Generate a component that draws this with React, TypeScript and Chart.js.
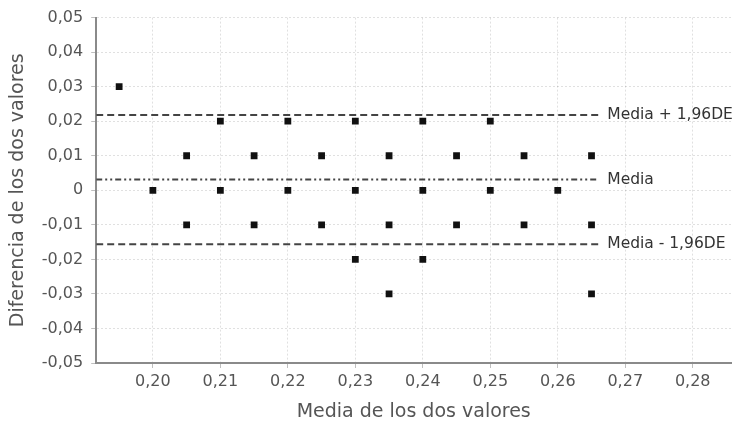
import React, { useEffect, useRef } from 'react';
import { Chart, registerables } from 'chart.js';

Chart.register(...registerables);

// Data: mean of two values (x) vs difference (y)
const xValues = [
  0.195, 0.2, 0.205, 0.205, 0.21, 0.21, 0.215, 0.215, 0.22, 0.22, 0.225, 0.225,
  0.23, 0.23, 0.23, 0.235, 0.235, 0.235, 0.24, 0.24, 0.24, 0.245, 0.245,
  0.25, 0.25, 0.255, 0.255, 0.26, 0.265, 0.265, 0.265,
];
const yValues = [
  0.03, 0, 0.01, -0.01, 0.02, 0, 0.01, -0.01, 0.02, 0, 0.01, -0.01,
  0.02, 0, -0.02, 0.01, -0.01, -0.03, 0.02, 0, -0.02, 0.01, -0.01,
  0.02, 0, 0.01, -0.01, 0, 0.01, -0.01, -0.03,
];

const xTicks = [0.2, 0.21, 0.22, 0.23, 0.24, 0.25, 0.26, 0.27, 0.28];
const xTickLabels = ['0,20', '0,21', '0,22', '0,23', '0,24', '0,25', '0,26', '0,27', '0,28'];
const yTicks = [0.05, 0.04, 0.03, 0.02, 0.01, 0, -0.01, -0.02, -0.03, -0.04, -0.05];
const yTickLabels = ['0,05', '0,04', '0,03', '0,02', '0,01', '0', '-0,01', '-0,02', '-0,03', '-0,04', '-0,05'];

const meanDiff = 0.0031;
const upperLimit = 0.0218;
const lowerLimit = -0.0156;
const refLabels = ['Media + 1,96DE', 'Media', 'Media - 1,96DE'];

const xMin = 0.1916;
const xMax = 0.2857;
const lineEnd = 0.266;
const yMin = -0.05;
const yMax = 0.05;

const xTitle = 'Media de los dos valores';
const yTitle = 'Diferencia de los dos valores';

const FONT = 'DejaVu Sans';

const refLabelPlugin = {
  id: 'refLabels',
  afterDatasetsDraw(chart: any) {
    const ctx = chart.ctx;
    ctx.save();
    ctx.font = `15.5px "${FONT}"`;
    ctx.fillStyle = '#333';
    ctx.textBaseline = 'middle';
    ctx.textAlign = 'left';
    chart.data.datasets.forEach((ds: any, i: number) => {
      if (!ds.refLabel) return;
      const meta = chart.getDatasetMeta(i);
      const pts = meta.data;
      const last = pts[pts.length - 1];
      ctx.fillText(ds.refLabel, last.x + 9, last.y);
    });
    ctx.restore();
  },
};

export default function App() {
  const ref = useRef<HTMLCanvasElement | null>(null);

  useEffect(() => {
    if (!ref.current) return;
    const points = xValues.map((x, i) => ({ x, y: yValues[i] }));
    const refLine = (y: number) => [
      { x: xMin, y },
      { x: lineEnd, y },
    ];
    const lineCommon = {
      type: 'line' as const,
      borderColor: '#444',
      borderWidth: 2,
      pointRadius: 0,
      fill: false,
      showLine: true,
    };
    const chart = new Chart(ref.current, {
      type: 'scatter',
      data: {
        datasets: [
          {
            ...lineCommon,
            data: refLine(upperLimit),
            borderDash: [7, 4],
            refLabel: refLabels[0],
          } as any,
          {
            ...lineCommon,
            data: refLine(meanDiff),
            borderDash: [6, 3, 2, 3, 2, 3],
            refLabel: refLabels[1],
          } as any,
          {
            ...lineCommon,
            data: refLine(lowerLimit),
            borderDash: [7, 4],
            refLabel: refLabels[2],
          } as any,
          {
            data: points,
            pointStyle: 'rect',
            pointRadius: 4.8,
            backgroundColor: '#111',
            borderColor: '#111',
            borderWidth: 0,
          },
        ],
      },
      options: {
        responsive: false,
        animation: false,
        devicePixelRatio: 1,
        layout: { padding: { top: 9, right: -5, left: 7, bottom: 0 } },
        plugins: {
          legend: { display: false },
          tooltip: { enabled: false },
        },
        scales: {
          x: {
            type: 'linear',
            min: xMin,
            max: xMax,
            afterBuildTicks: (scale: any) => {
              scale.ticks = xTicks.map((v) => ({ value: v }));
            },
            ticks: {
              autoSkip: false,
              maxRotation: 0,
              padding: 4,
              color: '#555',
              font: { family: FONT, size: 16 },
              callback: (v: any) => {
                const i = xTicks.findIndex((t) => Math.abs(t - Number(v)) < 1e-6);
                return i >= 0 ? xTickLabels[i] : '';
              },
            },
            grid: {
              color: 'rgba(0,0,0,0.12)',
              lineWidth: 1,
              tickLength: 5,
              tickColor: 'rgba(0,0,0,0.25)',
            },
            border: { display: true, color: '#8a8a8a', width: 2, dash: [2, 2] },
            title: {
              display: true,
              text: xTitle,
              color: '#555',
              font: { family: FONT, size: 19 },
              padding: { top: 5, bottom: 0 },
            },
          },
          y: {
            type: 'linear',
            min: yMin,
            max: yMax,
            afterBuildTicks: (scale: any) => {
              scale.ticks = yTicks.map((v) => ({ value: v }));
            },
            ticks: {
              autoSkip: false,
              padding: 8,
              color: '#555',
              font: { family: FONT, size: 16 },
              callback: (v: any) => {
                const i = yTicks.findIndex((t) => Math.abs(t - Number(v)) < 1e-6);
                return i >= 0 ? yTickLabels[i] : '';
              },
            },
            grid: {
              color: 'rgba(0,0,0,0.12)',
              lineWidth: 1,
              tickLength: 5,
              tickColor: 'rgba(0,0,0,0.25)',
            },
            border: { display: true, color: '#8a8a8a', width: 2, dash: [2, 2] },
            title: {
              display: true,
              text: yTitle,
              color: '#555',
              font: { family: FONT, size: 19 },
              padding: { top: 0, bottom: 4 },
            },
          },
        },
      } as any,
      plugins: [refLabelPlugin],
    });
    return () => chart.destroy();
  }, []);

  return (
    <div style={{ position: 'absolute', left: 0, top: 0, width: 736, height: 423, background: '#fff' }}>
      <canvas ref={ref} width={736} height={423} />
    </div>
  );
}
